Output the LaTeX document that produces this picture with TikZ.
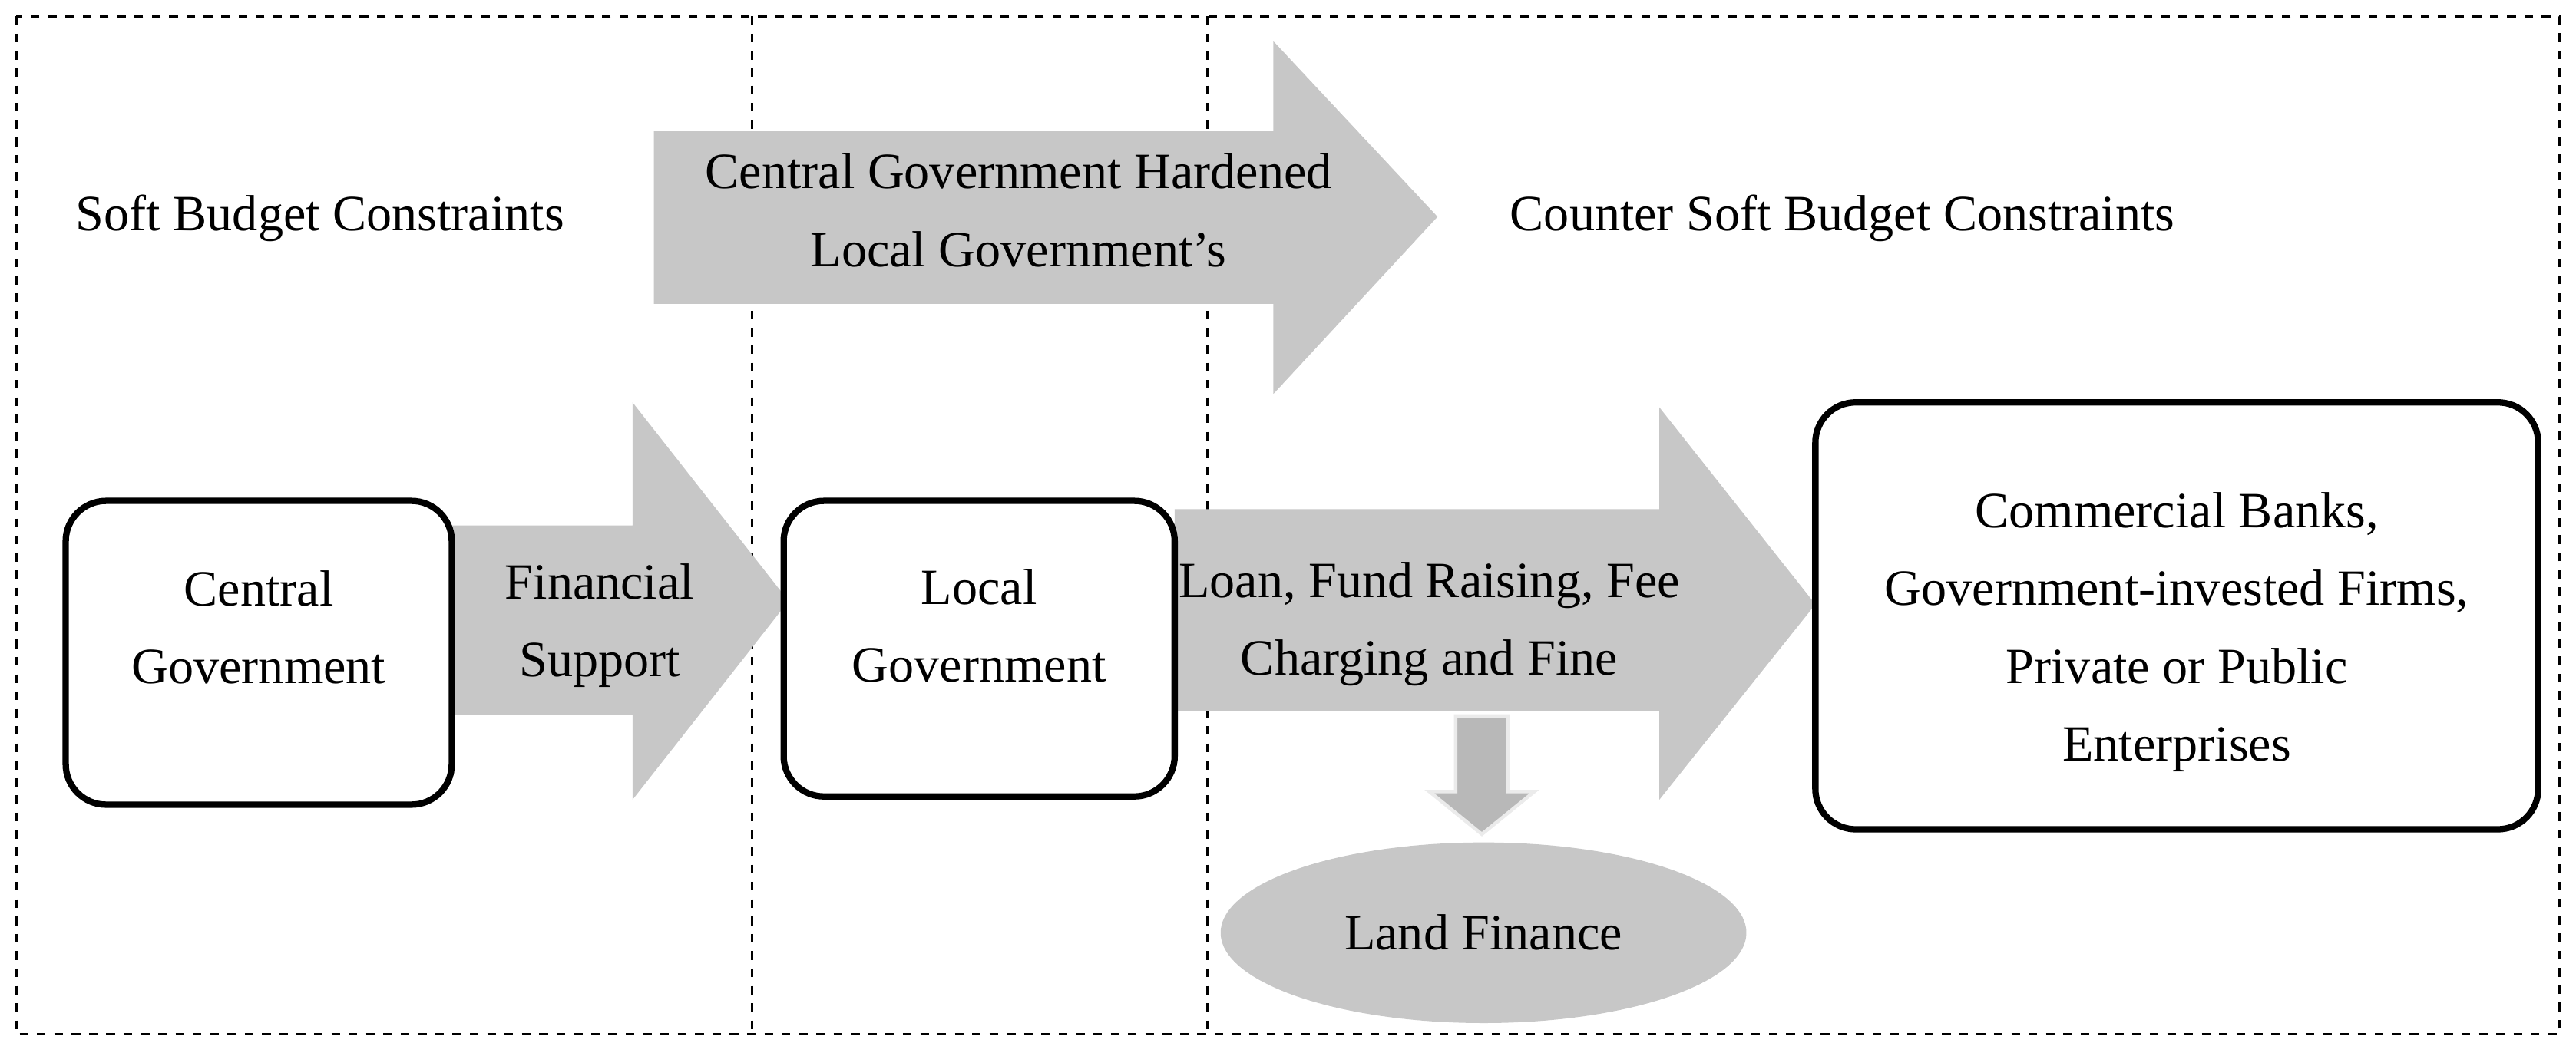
\documentclass[tikz,border=0pt]{standalone}
\usepackage{fontspec}
\setmainfont{Liberation Serif}
\begin{document}
\begin{tikzpicture}[x=0.02cm,y=-0.02cm,
  box/.style={draw=black,line width=2.2pt,rounded corners=14pt,fill=white},
  arr/.style={fill=black!22,draw=none},
  txt/.style={align=center,font=\fontsize{17.6}{27}\selectfont}]
\useasboundingbox (0,0) rectangle (1568,641);
\draw[dashed,line width=0.8pt] (10,10) rectangle (1558,630);
\draw[dashed,line width=0.8pt] (458,10) -- (458,630);
\draw[dashed,line width=0.8pt] (735,10) -- (735,630);
% top arrow
\fill[arr] (398,80) -- (775,80) -- (775,25) -- (875,132) -- (775,240) -- (775,185) -- (398,185) -- cycle;
\node[txt] (t1) at (620,128) {Central Government Hardened\\Local Government's};
\node[txt,anchor=west] (s1) at (40,133) {Soft Budget Constraints};
\node[txt,anchor=west] (s2) at (913,133) {Counter Soft Budget Constraints};
% arrows middle
\fill[arr] (275,320) -- (385,320) -- (385,245) -- (480,366) -- (385,487) -- (385,435) -- (275,435) -- cycle;
\fill[arr] (715,310) -- (1010,310) -- (1010,248) -- (1105,368) -- (1010,487) -- (1010,433) -- (715,433) -- cycle;
\draw[box] (40,305) rectangle (275,490);
\node[txt] (cgt) at (157.5,382) {Central\\Government};
\node[txt] (fs) at (365,381) {Financial\\Support};
\draw[box] (477,305) rectangle (715,485);
\node[txt] (lg) at (596,381) {Local\\Government};
\node[txt] (ln) at (870,380) {Loan, Fund Raising, Fee\\Charging and Fine};
\draw[box] (1105,245) rectangle (1545,505);
\node[txt] (cb) at (1325,385) {Commercial Banks,\\Government-invested Firms,\\Private or Public\\Enterprises};
% down arrow
\filldraw[fill=black!28,draw=black!8,line width=1.2pt] (886,436) -- (918,436) -- (918,482) -- (934,482) -- (902,508) -- (870,482) -- (886,482) -- cycle;
\fill[black!22] (903,568) ellipse (160 and 55);
\node[txt] (lft) at (903,568) {Land Finance};
\end{tikzpicture}
\end{document}
